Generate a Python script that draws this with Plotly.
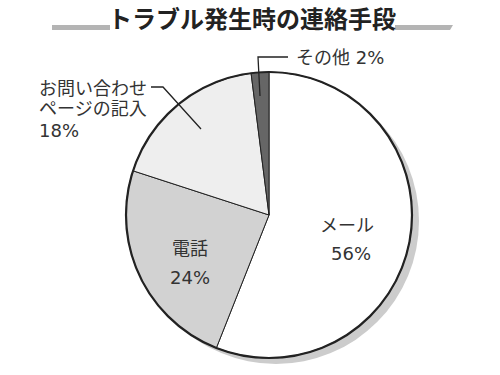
import plotly.graph_objects as go

categories = ["メール", "電話", "お問い合わせページの記入", "その他"]
values = [56, 24, 18, 2]
colors = ["#ffffff", "#d2d2d2", "#eeeeee", "#666666"]
title = "トラブル発生時の連絡手段"

W, H = 500, 375
cx, cy, r = 269, 215, 143  # pixel centre / radius of the pie

def px(x):
    return x / W

def py(y):
    return 1 - y / H

fig = go.Figure()
fig.add_trace(go.Pie(
    labels=categories, values=values, sort=False, direction="clockwise",
    rotation=0, textinfo="none", hoverinfo="label+percent",
    marker=dict(colors=colors, line=dict(color="#222222", width=1)),
    domain=dict(x=[px(cx - r), px(cx + r)], y=[py(cy + r), py(cy - r)]),
    showlegend=False,
))

shapes = [
    # drop shadow
    dict(type="circle", xref="paper", yref="paper", layer="below",
         x0=px(cx - r + 7), x1=px(cx + r + 7), y0=py(cy + r + 6), y1=py(cy - r + 6),
         fillcolor="#cccccc", line=dict(width=0)),
    # outer border
    dict(type="circle", xref="paper", yref="paper", layer="above",
         x0=px(cx - r), x1=px(cx + r), y0=py(cy + r), y1=py(cy - r),
         line=dict(color="#222222", width=2.2)),
    # title underline (left and right of the title)
    dict(type="rect", xref="paper", yref="paper", layer="below",
         x0=px(52), x1=px(110), y0=py(30), y1=py(25),
         fillcolor="#b4b4b4", line=dict(width=0)),
    dict(type="path", xref="paper", yref="paper", layer="below",
         path=f"M {px(395)},{py(25)} L {px(453)},{py(25)} L {px(450)},{py(30)} L {px(395)},{py(30)} Z",
         fillcolor="#b4b4b4", line=dict(width=0)),
    # leader lines
    dict(type="path", xref="paper", yref="paper", layer="above",
         path=f"M {px(151)},{py(87)} L {px(163)},{py(87)} L {px(201)},{py(129)}",
         line=dict(color="#222222", width=1.3)),
    dict(type="path", xref="paper", yref="paper", layer="above",
         path=f"M {px(288)},{py(57)} L {px(258)},{py(57)} L {px(260)},{py(96)}",
         line=dict(color="#222222", width=1.3)),
]

font = "DejaVu Sans, Noto Sans CJK JP"
tc = "#333333"
def ann(x, y, text, size=18, xanchor="center", **kw):
    return dict(x=px(x), y=py(y), xref="paper", yref="paper", text=text,
                showarrow=False, xanchor=xanchor, yanchor="middle",
                font=dict(family=font, size=size, color=tc), **kw)

annotations = [
    dict(x=px(252), y=py(17), xref="paper", yref="paper", text=f"<b>{title}</b>",
         showarrow=False, xanchor="center", yanchor="middle", borderpad=0,
         font=dict(family="Noto Sans CJK JP", size=24, color="#222222")),
    ann(37, 88, "お問い合わせ", xanchor="left"),
    ann(37, 108, "ページの記入", xanchor="left"),
    ann(37, 130, f"{values[2]}%", xanchor="left"),
    ann(294, 57, f"その他 {values[3]}%", xanchor="left"),
    ann(347, 225, categories[0]),
    ann(351, 253, f"{values[0]}%"),
    ann(190, 248, categories[1]),
    ann(190, 277, f"{values[1]}%"),
]

fig.update_layout(
    width=W, height=H, margin=dict(l=0, r=0, t=0, b=0),
    paper_bgcolor="#ffffff", plot_bgcolor="#ffffff",
    shapes=shapes, annotations=annotations,
)

fig.write_html("out.html", config={"displayModeBar": False},
               post_script="document.body.style.margin='0';")
